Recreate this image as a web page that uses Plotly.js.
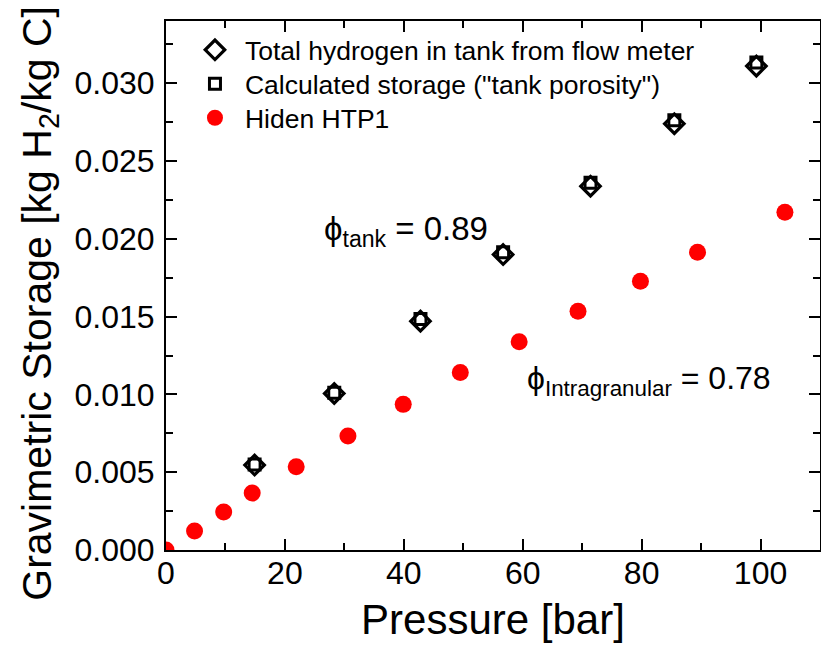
<!DOCTYPE html>
<html>
<head>
<meta charset="utf-8">
<script src="https://cdn.plot.ly/plotly-3.0.1.min.js"></script>
<style>html,body{margin:0;padding:0;background:#fff;}#chart{width:821px;height:645px;}</style>
</head>
<body>
<div id="chart"></div>
<script>
// Total hydrogen in tank from flow meter (open diamonds)
var flowPressure = [14.9, 28.3, 42.8, 56.7, 71.4, 85.5, 99.3];
var flowStorage = [0.00546, 0.01006, 0.01471, 0.01899, 0.02338, 0.02740, 0.03110];
// Calculated storage ("tank porosity") (open squares)
var calcPressure = [14.9, 28.3, 42.8, 56.7, 71.4, 85.5, 99.3];
var calcStorage = [0.00550, 0.01010, 0.01484, 0.01914, 0.02360, 0.02762, 0.03134];
// Hiden HTP1 (red circles)
var hidenPressure = [0, 4.8, 9.7, 14.5, 21.9, 30.6, 39.9, 49.5, 59.4, 69.3, 79.8, 89.4, 104.1];
var hidenStorage = [0, 0.00122, 0.00244, 0.00366, 0.00535, 0.00732, 0.00936, 0.01141, 0.01338, 0.01535, 0.01728, 0.01914, 0.02171];

var xTickVals = [0, 20, 40, 60, 80, 100];
var yTickVals = [0, 0.005, 0.010, 0.015, 0.020, 0.025, 0.030];

var FONT = '"Liberation Sans", Arial, Helvetica, sans-serif';

var traces = [
  {x: hidenPressure, y: hidenStorage, type: 'scatter', mode: 'markers', name: 'Hiden HTP1', legend: 'legend3',
   marker: {symbol: 'circle', size: 17, color: '#ff0000', line: {width: 0}}},
  {x: calcPressure, y: calcStorage, type: 'scatter', mode: 'markers', name: 'Calculated storage ("tank porosity")', legend: 'legend2',
   marker: {symbol: 'square-open', size: 11, color: '#000000', line: {width: 3, color: '#000000'}}},
  {x: flowPressure, y: flowStorage, type: 'scatter', mode: 'markers', name: 'Total hydrogen in tank from flow meter', legend: 'legend',
   marker: {symbol: 'diamond-open', size: 15, color: '#000000', line: {width: 3.2, color: '#000000'}}}
];

var axisCommon = {
  showline: true, linecolor: '#000', linewidth: 2, mirror: 'allticks',
  ticks: 'inside', ticklen: 11, tickwidth: 2, tickcolor: '#000',
  showgrid: false, zeroline: false,
  tickfont: {family: FONT, size: 32, color: '#000'}
};

function legendAt(yPaper) {
  return {x: 0.029, y: yPaper, xanchor: 'left', yanchor: 'middle', bgcolor: 'rgba(0,0,0,0)',
          font: {family: FONT, size: 26.5, color: '#000'}, itemwidth: 50};
}

var layout = {
  width: 821, height: 645,
  margin: {l: 166, r: 1, t: 21, b: 95, pad: 0},
  paper_bgcolor: '#fff', plot_bgcolor: '#fff',
  font: {family: FONT, color: '#000'},
  showlegend: true,
  legend: legendAt(0.945),
  legend2: legendAt(0.881),
  legend3: legendAt(0.8166),
  xaxis: Object.assign({}, axisCommon, {
    range: [0, 110], tickvals: xTickVals, ticktext: xTickVals.map(String), ticklabelstandoff: -6,
    minor: {ticks: 'inside', ticklen: 7, tickwidth: 2, tickcolor: '#000', dtick: 10, tick0: 0, showgrid: false},
    title: {text: 'Pressure [bar]', font: {family: FONT, size: 42, color: '#000'}, standoff: 14}
  }),
  yaxis: Object.assign({}, axisCommon, {
    range: [0, 0.034], tickvals: yTickVals, ticktext: yTickVals.map(function(v){return v.toFixed(3);}), ticklabelstandoff: 3,
    minor: {ticks: 'inside', ticklen: 7, tickwidth: 2, tickcolor: '#000', dtick: 0.0025, tick0: 0, showgrid: false}
  }),
  annotations: [
    {x: -0.193, y: 0.467, xref: 'paper', yref: 'paper', xanchor: 'center', yanchor: 'middle', showarrow: false,
     textangle: -90, text: 'Gravimetric Storage [kg H<sub>2</sub>/kg C]', font: {family: FONT, size: 41, color: '#000'}},
    {x: 26.2, y: 0.0205, xref: 'x', yref: 'y', xanchor: 'left', yanchor: 'middle', showarrow: false,
     text: 'ϕ<sub>tank</sub> = 0.89', font: {family: FONT, size: 33, color: '#000'}},
    {x: 60.4, y: 0.0109, xref: 'x', yref: 'y', xanchor: 'left', yanchor: 'middle', showarrow: false,
     text: 'ϕ<sub>Intragranular</sub> = 0.78', font: {family: FONT, size: 32, color: '#000'}}
  ]
};

Plotly.newPlot('chart', traces, layout, {displayModeBar: false, staticPlot: true});
</script>
</body>
</html>
